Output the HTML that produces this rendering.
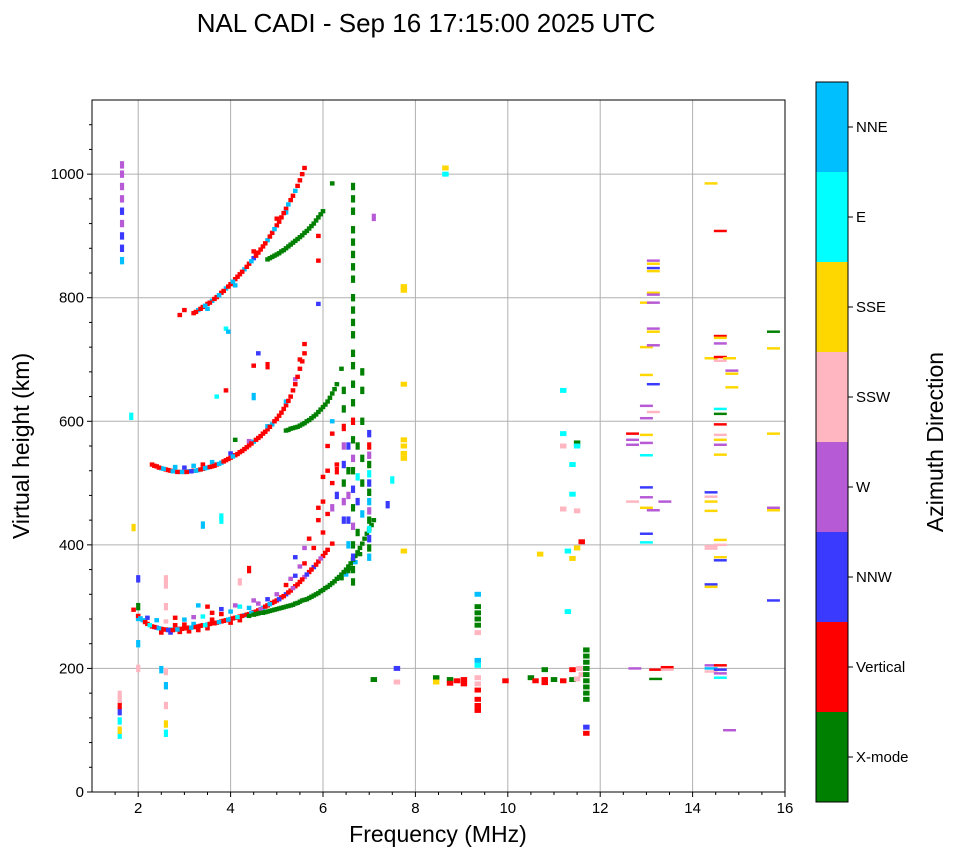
<!DOCTYPE html>
<html><head><meta charset="utf-8">
<style>
html,body{margin:0;padding:0;background:#fff;}
svg{display:block;font-family:"Liberation Sans",sans-serif;}
</style></head>
<body>
<svg id="chart" width="958" height="857" viewBox="0 0 958 857" xmlns="http://www.w3.org/2000/svg">
<text x="426" y="32" font-size="26" text-anchor="middle">NAL CADI - Sep 16 17:15:00 2025 UTC</text>
<g id="grid"></g>
<g id="marks"></g>
<rect x="92" y="100" width="693" height="692" fill="none" stroke="#000" stroke-width="1"/>
<g id="axes"></g>
<text x="438" y="842" font-size="23" text-anchor="middle">Frequency (MHz)</text>
<text x="29" y="446" font-size="23" text-anchor="middle" transform="rotate(-90 29 446)">Virtual height (km)</text>
<g id="cbar"></g>
<text x="943" y="442" font-size="23" text-anchor="middle" transform="rotate(-90 943 442)">Azimuth Direction</text>
</svg>
<script>
const directions = ["X-mode","Vertical","NNW","W","SSW","SSE","E","NNE"];
const dirColors = ["#008000","#ff0000","#3a3aff","#b65ad6","#ffb6c1","#ffd700","#00ffff","#00bfff"];
const xTicks = [2,4,6,8,10,12,14,16];
const yTicks = [0,200,400,600,800,1000];

const trace1O = [[1.9,295,1],[2.0,285,1],[2.1,278,7],[2.2,272,1],[2.3,268,1],[2.4,266,2],[2.5,264,1],[2.6,263,1],[2.7,263,7],[2.8,263,1],[2.9,264,1],[3.0,265,1],[3.1,266,1],[3.2,267,1],[3.3,268,1],[3.4,270,1],[3.5,271,7],[3.6,273,1],[3.7,274,1],[3.8,276,1],[3.9,278,1],[4.0,280,7],[4.1,282,1],[4.2,284,1],[4.3,286,7],[4.4,288,1],[4.5,291,1],[4.6,294,1],[4.7,298,7],[4.8,302,1],[4.9,306,1],[5.0,310,1],[5.1,315,1],[5.2,320,2],[5.3,326,1],[5.4,333,1],[5.5,340,1],[5.6,348,3],[5.7,356,1],[5.8,364,2],[5.9,373,1],[6.0,382,1],[6.1,392,1],[6.2,402,1],
[2.5,258,1],[2.7,258,2],[2.9,259,1],[3.1,260,1],[3.3,262,1],[3.5,265,1],[2.8,270,1],[3.0,271,1],[3.2,272,7],[3.6,279,1],[4.0,274,1],[4.2,278,1]];
const trace1Mid = [[2.05,281,7],[2.15,275,1],[2.25,270,6],[2.35,267,1],[2.45,265,7],[2.55,263,1],[2.65,262,2],[2.75,262,1],[2.85,263,7],[2.95,264,1],[3.05,265,1],[3.15,266,7],[3.25,267,1],[3.35,269,1],[3.45,270,6],[3.55,272,1],[3.65,273,1],[3.75,275,7],[3.85,277,1],[3.95,279,7],[4.05,281,1],[4.15,283,6],[4.25,285,1],[4.35,287,1],[4.45,290,7],[4.55,292,1],[4.65,296,3],[4.75,300,1],[4.85,304,7],[4.95,308,1],[5.05,312,2],[5.15,317,1],[5.25,323,1],[5.35,330,3],[5.45,336,1],[5.55,344,1],[5.65,352,2],[5.75,360,1],[5.85,368,1],[5.95,378,3],[6.05,387,1]];
const trace1Upper = [[2.0,280,7],[2.2,282,2],[2.4,278,7],[2.6,276,4],[2.8,282,1],[3.0,279,7],[3.2,283,3],[3.4,284,6],[3.6,290,1],[3.8,296,2],[4.0,292,7],[4.2,300,6],[4.4,298,7],[4.6,305,3],[4.8,312,2],[5.0,320,3],[5.2,335,1],[5.4,350,2],[5.6,370,1],[5.8,395,1],[6.0,420,1],[6.1,450,1],[6.0,470,1],[6.2,500,1],[6.1,520,1],[6.3,530,1],[5.9,460,1],[6.0,510,1],[3.3,302,7],[3.5,300,1],[3.8,288,1],[4.1,302,3],[4.5,310,3],[5.3,345,3],[5.5,365,3],[5.4,380,2],[5.6,395,3],[5.7,410,1],[5.9,440,1],[6.2,580,1],[6.2,600,7],[6.1,560,1]];
const trace1X = [[4.4,285,0],[4.5,287,0],[4.6,289,0],[4.7,290,0],[4.8,292,0],[4.9,294,0],[5.0,296,0],[5.1,298,0],[5.2,300,0],[5.3,302,0],[5.4,305,0],[5.5,308,0],[5.6,311,0],[5.7,314,0],[5.8,318,0],[5.9,322,0],[6.0,327,0],[6.1,332,0],[6.2,338,0],[6.3,345,0],[6.4,352,0],[6.5,360,0],[6.6,370,0],[6.7,382,0],[6.8,395,0],[6.9,410,0],[7.0,425,0],[7.1,440,0],[6.4,346,0],[6.5,352,7],[6.6,362,0],[6.7,372,7],[6.8,385,0]];
const trace1XMid = [[4.55,288,0],[4.65,290,0],[4.75,291,0],[4.85,293,0],[4.95,295,0],[5.05,297,0],[5.15,299,0],[5.25,301,0],[5.35,303,0],[5.45,306,0],[5.55,310,0],[5.65,312,0],[5.75,316,0],[5.85,320,0],[5.95,325,0],[6.05,330,0],[6.15,335,0],[6.25,341,0],[6.35,348,0],[6.45,356,0],[6.55,365,0],[6.65,376,0],[6.75,388,0],[6.85,402,0],[6.95,418,0],[7.05,432,0]];
const trace2O = [[2.3,530,1],[2.4,527,1],[2.5,524,7],[2.6,522,1],[2.7,520,1],[2.8,519,7],[2.9,518,1],[3.0,518,1],[3.1,519,7],[3.2,520,1],[3.3,521,7],[3.4,523,1],[3.5,525,7],[3.6,527,1],[3.7,530,1],[3.8,533,7],[3.9,537,1],[4.0,541,1],[4.1,545,1],[4.2,550,1],[4.3,555,1],[4.4,561,1],[4.5,567,7],[4.6,573,1],[4.7,580,1],[4.8,587,1],[4.9,595,7],[5.0,604,1],[5.1,614,1],[5.2,626,1],[5.3,640,1],[5.4,660,1],[5.5,685,1],[5.6,710,1],
[2.8,526,7],[3.0,525,2],[3.2,528,7],[3.4,530,1],[3.6,534,7],[4.0,548,2],[4.4,568,3],[4.8,592,7],[5.2,632,7],[5.4,668,3],[5.5,700,1],[5.6,725,1],[4.5,690,1],[3.9,650,1],[3.7,640,6],[4.6,710,2],[3.9,750,6],[3.95,745,7]];
const trace2Mid = [[2.35,528,1],[2.45,525,1],[2.55,523,7],[2.65,521,1],[2.75,519,7],[2.85,518,1],[2.95,518,7],[3.05,518,1],[3.15,519,2],[3.25,520,7],[3.35,522,1],[3.45,524,7],[3.55,526,1],[3.65,528,1],[3.75,531,7],[3.85,535,1],[3.95,539,1],[4.05,543,7],[4.15,547,1],[4.25,552,1],[4.35,558,1],[4.45,564,1],[4.55,570,1],[4.65,576,1],[4.75,583,1],[4.85,591,1],[4.95,600,1],[5.05,609,1],[5.15,620,1],[5.25,633,1],[5.35,650,1],[5.45,672,1],[5.55,697,1]];
const trace2X = [[5.2,585,0],[5.3,588,0],[5.4,590,0],[5.5,593,0],[5.6,597,0],[5.7,602,0],[5.8,608,0],[5.9,615,0],[6.0,623,0],[6.1,632,0],[6.2,645,0],[6.3,660,0],[6.4,685,0],[4.1,570,0]];
const trace2XMid = [[5.25,586,0],[5.35,589,0],[5.45,591,0],[5.55,595,0],[5.65,600,0],[5.75,605,0],[5.85,611,0],[5.95,619,0],[6.05,627,0],[6.15,638,0],[6.25,652,0]];
const trace3O = [[3.2,775,1],[3.3,780,7],[3.4,785,1],[3.5,790,1],[3.6,795,7],[3.7,801,1],[3.8,808,1],[3.9,815,7],[4.0,822,1],[4.1,830,1],[4.2,838,1],[4.3,846,7],[4.4,855,1],[4.5,864,2],[4.6,873,1],[4.7,883,1],[4.8,893,7],[4.9,905,1],[5.0,917,1],[5.1,930,1],[5.2,944,1],[5.3,958,1],[5.4,973,7],[5.5,990,1],[5.6,1010,1],[3.0,780,1],[2.9,772,1],[3.5,782,7],[4.1,820,7],[4.5,875,1],[5.0,928,1],[5.2,938,7]];
const trace3Mid = [[3.25,777,1],[3.35,782,1],[3.45,787,7],[3.55,792,1],[3.65,798,1],[3.75,804,7],[3.85,811,1],[3.95,818,1],[4.05,826,7],[4.15,834,1],[4.25,842,1],[4.35,850,1],[4.45,859,7],[4.55,868,1],[4.65,878,1],[4.75,888,1],[4.85,899,1],[4.95,911,7],[5.05,923,1],[5.15,937,1],[5.25,951,7],[5.35,965,1],[5.45,981,1],[5.55,1000,1]];
const trace3X = [[4.8,862,0],[4.9,866,0],[5.0,870,0],[5.1,875,0],[5.2,880,0],[5.3,886,0],[5.4,892,0],[5.5,898,0],[5.6,905,0],[5.7,912,0],[5.8,920,0],[5.9,930,0],[6.0,940,0],[6.2,985,0],[5.9,860,1],[5.9,900,1],[5.9,790,2]];
const trace3XMid = [[4.85,864,0],[4.95,868,0],[5.05,872,0],[5.15,877,0],[5.25,883,0],[5.35,889,0],[5.45,895,0],[5.55,901,0],[5.65,908,0],[5.75,916,0],[5.85,925,0],[5.95,935,0]];
const columns = [[6.65,340,0],[6.65,360,0],[6.65,380,2],[6.65,400,0],[6.65,430,3],[6.65,460,0],[6.65,490,2],[6.65,520,0],[6.65,540,3],[6.65,570,0],[6.65,600,1],[6.65,630,0],[6.65,660,0],[6.65,690,0],[6.65,710,0],[6.65,740,0],[6.65,760,0],[6.65,780,0],[6.65,800,0],[6.65,830,0],[6.65,850,0],[6.65,870,0],[6.65,890,0],[6.65,910,0],[6.65,940,0],[6.65,960,0],[6.65,980,0],
[6.55,360,0],[6.55,400,7],[6.55,440,2],[6.55,480,3],[6.55,520,0],[6.55,560,2],[6.75,420,0],[6.75,470,2],[6.75,510,6],[6.75,560,0],
[6.45,440,2],[6.45,470,3],[6.45,500,0],[6.45,530,2],[6.45,560,3],[6.45,590,1],[6.45,620,0],[6.45,650,0],[6.3,480,2],[6.3,520,1],[6.2,460,3],
[7.0,380,7],[7.0,395,0],[7.0,410,2],[7.0,425,6],[7.0,440,0],[7.0,455,3],[7.0,470,7],[7.0,485,0],[7.0,500,2],[7.0,515,6],[7.0,530,0],[7.0,545,3],[7.0,560,1],[7.0,580,2],[6.85,450,7],[6.85,500,0],[6.85,540,0],[6.85,600,0],[6.85,650,0],[6.85,680,0],[7.1,930,3],[7.4,465,2],[7.5,505,6],
[1.65,860,7],[1.65,880,2],[1.65,900,2],[1.65,920,3],[1.65,940,2],[1.65,960,3],[1.65,980,3],[1.65,1000,3],[1.65,1015,3],
[1.6,92,6],[1.6,100,5],[1.6,115,6],[1.6,130,2],[1.6,140,1],[1.6,150,4],[1.6,158,4],
[2.6,345,4],[2.6,335,4],[2.6,300,4],[2.6,195,4],[2.6,172,7],[2.6,140,4],[2.6,110,5],[2.6,95,6],[2.0,345,2],[2.0,300,0],[2.0,240,7],[2.0,200,4],[1.9,428,5],[1.85,608,6],[2.5,198,7],[3.4,432,7],[3.8,445,6],[3.8,440,6],[4.2,340,4],[4.4,360,1],[4.8,690,1],[4.5,640,7]];
const highFreq = [[8.65,1010,5],[8.65,1000,6],[7.75,818,5],[7.75,812,5],[7.75,660,5],[7.75,570,5],[7.75,560,5],[7.75,548,5],[7.75,540,5],[7.75,390,5],
[8.45,185,0],[8.45,178,5],[8.75,182,0],[8.75,176,1],[9.05,182,1],[9.05,175,1],[8.9,180,1],
[9.35,320,7],[9.35,300,0],[9.35,290,0],[9.35,280,0],[9.35,270,0],[9.35,258,4],[9.35,213,7],[9.35,205,6],[9.35,185,4],[9.35,175,4],[9.35,165,1],[9.35,150,1],[9.35,140,1],[9.35,132,1],
[9.95,180,1],[10.5,185,0],[10.6,180,1],[10.8,182,1],[10.8,177,1],[11.0,182,0],[11.2,180,1],[11.4,182,0],[11.4,198,1],[11.55,200,4],[11.6,190,4],[11.5,183,4],
[11.7,230,0],[11.7,220,0],[11.7,210,0],[11.7,200,0],[11.7,190,0],[11.7,180,0],[11.7,170,0],[11.7,160,0],[11.7,150,0],[11.7,105,2],[11.7,95,1],
[10.7,385,5],[11.2,650,6],[11.2,580,6],[11.2,560,4],[11.5,565,0],[11.5,560,6],[11.4,530,6],[11.4,482,6],[11.2,458,4],[11.5,455,4],[11.3,390,6],[11.5,395,5],[11.6,405,1],[11.4,378,5],[11.3,292,6],[10.8,198,0],[7.6,178,4],[7.6,200,2],[7.1,182,0]];
const farFreq = [[12.7,580,1],[12.7,570,3],[12.7,562,3],[12.7,470,4],[12.75,200,3],[13.0,792,5],[13.0,720,5],[13.0,675,5],[13.0,625,3],[13.0,605,3],[13.0,578,5],[13.0,565,3],[13.0,545,6],[13.0,493,2],[13.0,477,3],[13.0,460,5],[13.0,418,2],[13.0,404,6],[13.15,860,3],[13.15,855,5],[13.15,848,2],[13.15,843,5],[13.15,808,5],[13.15,805,3],[13.15,792,3],[13.15,750,3],[13.15,745,5],[13.15,723,3],[13.15,660,2],[13.15,615,4],[13.15,456,3],[13.4,470,3],[13.2,198,1],[13.2,183,0],[13.45,202,1],[13.45,198,4],
[14.4,985,5],[14.4,702,5],[14.4,485,2],[14.4,478,4],[14.4,470,5],[14.4,455,5],[14.4,398,4],[14.4,394,4],[14.4,336,2],[14.4,332,5],[14.4,205,3],[14.4,200,7],[14.4,195,4],
[14.6,908,1],[14.6,738,1],[14.6,735,5],[14.6,726,3],[14.6,704,1],[14.6,698,4],[14.6,620,6],[14.6,612,0],[14.6,595,1],[14.6,578,4],[14.6,570,5],[14.6,562,3],[14.6,546,5],[14.6,408,5],[14.6,400,4],[14.6,380,5],[14.6,375,2],[14.6,205,1],[14.6,198,2],[14.6,192,3],[14.6,185,6],[14.8,702,5],[14.85,682,3],[14.85,677,5],[14.85,655,5],[14.8,100,3],
[15.75,745,0],[15.75,718,5],[15.75,580,5],[15.75,460,3],[15.75,456,5],[15.75,310,2]];

const X0=92, X1=785, Y0=792, F0=1, F1=16, HMAX=1120;
const sx = f => X0 + (f-F0)/(F1-F0)*(X1-X0);
const sy = h => Y0 - h/HMAX*(Y0-100);
const NS="http://www.w3.org/2000/svg";
function mk(tag, attrs, parent){const e=document.createElementNS(NS,tag);for(const k in attrs)e.setAttribute(k,attrs[k]);parent.appendChild(e);return e;}

const grid=document.getElementById('grid'), axes=document.getElementById('axes');
xTicks.forEach(t=>{
  const x=sx(t);
  if(t<16){const g=mk('line',{x1:x,x2:x,y1:100,y2:Y0,stroke:'#b0b0b0','stroke-width':1},grid);
  
  }
  mk('line',{x1:x,x2:x,y1:Y0,y2:Y0+5,stroke:'#000'},axes);
  const tx=mk('text',{x:x,y:Y0+21,'font-size':15,'text-anchor':'middle'},axes);
  tx.textContent=t;
  
  
});
for(let f=1.5;f<16;f+=0.5){ if(f%2!==0){const x=sx(f);mk('line',{x1:x,x2:x,y1:Y0,y2:Y0+3,stroke:'#000'},axes);} }
yTicks.forEach(t=>{
  const y=sy(t);
  if(t>0){const g=mk('line',{x1:X0,x2:X1,y1:y,y2:y,stroke:'#b0b0b0','stroke-width':1},grid);
  
  }
  mk('line',{x1:X0-5,x2:X0,y1:y,y2:y,stroke:'#000'},axes);
  const tx=mk('text',{x:X0-8,y:y+5,'font-size':15,'text-anchor':'end'},axes);
  tx.textContent=t;
  
  
});
for(let h=40;h<HMAX;h+=40){ if(h%200!==0){const y=sy(h);mk('line',{x1:X0-3,x2:X0,y1:y,y2:y,stroke:'#000'},axes);} }

const marks=document.getElementById('marks');
function drawGroup(arr, wMHz, hKm){
  arr.forEach(p=>{
    const w=sx(p[0]+wMHz/2)-sx(p[0]-wMHz/2);
    const r=mk('rect',{x:sx(p[0])-w/2,y:sy(p[1])-hKm*0.618/2,width:w,height:hKm*0.618,fill:dirColors[p[2]]},marks);
    
    
  });
}
drawGroup(trace1Upper,0.1,7);
drawGroup(trace1O,0.1,7);
drawGroup(trace1Mid,0.1,7);
drawGroup(trace1X,0.1,7);
drawGroup(trace1XMid,0.1,7);
drawGroup(trace2O,0.1,7);
drawGroup(trace2Mid,0.1,7);
drawGroup(trace2X,0.1,7);
drawGroup(trace2XMid,0.1,7);
drawGroup(trace3O,0.1,7);
drawGroup(trace3Mid,0.1,7);
drawGroup(trace3X,0.1,7);
drawGroup(trace3XMid,0.1,7);
drawGroup(columns,0.09,12);
drawGroup(highFreq,0.14,8);
drawGroup(farFreq,0.28,4);

const cb=document.getElementById('cbar');
const cbTop=82, cbBot=802, segH=(cbBot-cbTop)/directions.length;
directions.forEach((d,i)=>{
  const y=cbBot-(i+1)*segH;
  const r=mk('rect',{x:816,y:y,width:32,height:segH,fill:dirColors[i]},cb);
  
  
  mk('line',{x1:848,x2:853,y1:y+segH/2,y2:y+segH/2,stroke:'#000'},cb);
  const t=mk('text',{x:856,y:y+segH/2+5,'font-size':15},cb);
  t.textContent=d;
  
  
});
mk('rect',{x:816,y:cbTop,width:32,height:cbBot-cbTop,fill:'none',stroke:'#000'},cb);
</script>
</body></html>
